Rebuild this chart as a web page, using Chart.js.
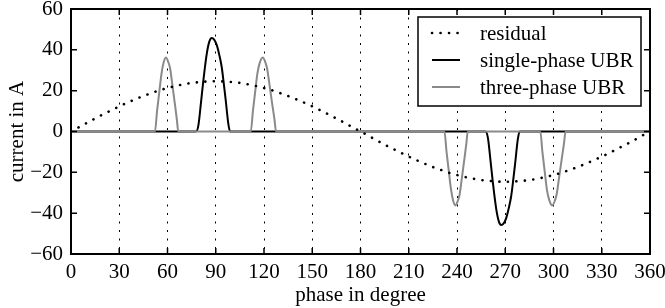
<!DOCTYPE html>
<html>
<head>
<meta charset="utf-8">
<script src="https://cdn.jsdelivr.net/npm/chart.js@4.4.0/dist/chart.umd.min.js"></script>
<style>
html, body { margin: 0; padding: 0; background: #fff; }
</style>
</head>
<body>
<canvas id="chart" width="665" height="308"></canvas>
<script>
// phase axis ticks (degree) and current axis ticks (A)
const phaseTicks = [0, 30, 60, 90, 120, 150, 180, 210, 240, 270, 300, 330, 360];
const currentTicks = [-60, -40, -20, 0, 20, 40, 60];

// residual current, read every 5 degree
const residualPhase = [0, 5, 10, 15, 20, 25, 30, 35, 40, 45, 50, 55, 60, 65, 70, 75, 80, 85, 90,
    95, 100, 105, 110, 115, 120, 125, 130, 135, 140, 145, 150, 155, 160, 165, 170, 175, 180,
    185, 190, 195, 200, 205, 210, 215, 220, 225, 230, 235, 240, 245, 250, 255, 260, 265, 270,
    275, 280, 285, 290, 295, 300, 305, 310, 315, 320, 325, 330, 335, 340, 345, 350, 355, 360];
const residualCurrent = [0, 2.1, 4.3, 6.4, 8.4, 10.4, 12.3, 14.1, 15.8, 17.4, 18.8, 20.2, 21.3, 22.3, 23.1, 23.8, 24.2, 24.5, 24.6,
    24.5, 24.2, 23.8, 23.1, 22.3, 21.3, 20.2, 18.8, 17.4, 15.8, 14.1, 12.3, 10.4, 8.4, 6.4, 4.3, 2.1, 0,
    -2.1, -4.3, -6.4, -8.4, -10.4, -12.3, -14.1, -15.8, -17.4, -18.8, -20.2, -21.3, -22.3, -23.1, -23.8, -24.2, -24.5, -24.6,
    -24.5, -24.2, -23.8, -23.1, -22.3, -21.3, -20.2, -18.8, -17.4, -15.8, -14.1, -12.3, -10.4, -8.4, -6.4, -4.3, -2.1, 0];

// single-phase UBR
const singlePhase = [0, 77.7, 79.2, 80.8, 82.3, 84.4, 86, 87.5, 89, 90.6, 92.2, 93.7, 95, 96.2, 97.8, 98.9,
    257.7, 259.2, 260.8, 262.3, 264.4, 266, 267.5, 269, 270.6, 272.2, 273.7, 275, 276.2, 277.8, 278.9, 360];
const singleCurrent = [0, 0, 3, 14, 25, 38, 44, 45.8, 45, 42.4, 37.5, 31.6, 23.5, 15.3, 3.9, 0,
    0, -3, -14, -25, -38, -44, -45.8, -45, -42.4, -37.5, -31.6, -23.5, -15.3, -3.9, 0, 0];

// three-phase UBR
const threePhase = [0,
    52.2, 53.5, 55, 56.3, 57.5, 59, 60.5, 61.6, 63, 64.5, 65.8, 66.7,
    111.8, 113.1, 114.6, 115.9, 117.3, 119.2, 120.8, 121.9, 123.4, 125, 126.5, 127.5,
    232.2, 233.5, 235, 236.3, 237.5, 239, 240.5, 241.6, 243, 244.5, 245.8, 246.7,
    291.8, 293.1, 294.6, 295.9, 297.3, 299.2, 300.8, 301.9, 303.4, 305, 306.5, 307.5,
    360];
const threeCurrent = [0,
    0, 10, 20, 28.5, 33.5, 36.2, 34, 31, 23, 14, 6, 0,
    0, 10, 20, 28.5, 33.5, 36.2, 34, 31, 23, 14, 6, 0,
    0, -10, -20, -28.5, -33.5, -36.2, -34, -31, -23, -14, -6, 0,
    0, -10, -20, -28.5, -33.5, -36.2, -34, -31, -23, -14, -6, 0,
    0];

const seriesNames = ['residual', 'single-phase UBR', 'three-phase UBR'];

function toPoints(xs, ys) {
    return xs.map(function(x, i) { return {x: x, y: ys[i]}; });
}

function minusSign(v) {
    return String(v).replace('-', '\u2212');
}

const FONT = "'Liberation Serif', 'DejaVu Serif', serif";
const FONT_SIZE = 21;
Chart.defaults.font.family = FONT;
Chart.defaults.font.size = FONT_SIZE;
Chart.defaults.color = '#000';

const DOT_DASH = [0.1, 8.4];

// frame with inward ticks, and the legend box
const framePlugin = {
    id: 'frame',
    afterDatasetsDraw(chart) {
        const c = chart.ctx;
        const a = chart.chartArea;
        const xs = chart.scales.x, ys = chart.scales.y;
        c.save();
        c.strokeStyle = '#000';
        c.lineWidth = 1.5;
        c.beginPath();
        phaseTicks.forEach(function(t) {
            const px = xs.getPixelForValue(t);
            c.moveTo(px, a.bottom); c.lineTo(px, a.bottom - 6);
            c.moveTo(px, a.top); c.lineTo(px, a.top + 6);
        });
        currentTicks.forEach(function(t) {
            const py = ys.getPixelForValue(t);
            c.moveTo(a.left, py); c.lineTo(a.left + 6, py);
            c.moveTo(a.right, py); c.lineTo(a.right - 6, py);
        });
        c.stroke();
        c.lineWidth = 2;
        c.strokeRect(a.left, a.top, a.right - a.left, a.bottom - a.top);

        // legend
        const L = 418, T = 17, R = 641, B = 106;
        c.fillStyle = '#fff';
        c.fillRect(L, T, R - L, B - T);
        c.lineWidth = 1.5;
        c.strokeRect(L, T, R - L, B - T);
        const rows = [33, 60, 87];
        chart.data.datasets.forEach(function(ds, i) {
            const y = rows[i];
            c.beginPath();
            c.strokeStyle = ds.borderColor;
            c.lineWidth = ds.borderWidth;
            c.lineCap = ds.borderCapStyle || 'butt';
            c.setLineDash(ds.borderDash || []);
            c.moveTo(432, y); c.lineTo(460, y);
            c.stroke();
            c.setLineDash([]);
            c.lineCap = 'butt';
            c.fillStyle = '#000';
            c.font = FONT_SIZE + 'px ' + FONT;
            c.textBaseline = 'middle';
            c.textAlign = 'left';
            c.fillText(ds.label, 480, y + 1);
        });
        c.restore();
    }
};

new Chart(document.getElementById('chart'), {
    type: 'line',
    data: {
        datasets: [
            {
                label: seriesNames[0],
                data: toPoints(residualPhase, residualCurrent),
                borderColor: '#000',
                borderWidth: 2.6,
                borderDash: DOT_DASH,
                borderCapStyle: 'round',
                pointRadius: 0,
                cubicInterpolationMode: 'monotone',
                order: 0
            },
            {
                label: seriesNames[1],
                data: toPoints(singlePhase, singleCurrent),
                borderColor: '#000',
                borderWidth: 2,
                pointRadius: 0,
                cubicInterpolationMode: 'monotone',
                order: 2
            },
            {
                label: seriesNames[2],
                data: toPoints(threePhase, threeCurrent),
                borderColor: '#8a8a8a',
                borderWidth: 2,
                pointRadius: 0,
                cubicInterpolationMode: 'monotone',
                order: 1
            }
        ]
    },
    options: {
        responsive: false,
        animation: false,
        devicePixelRatio: 1,
        layout: { padding: { top: 9, right: 15, left: 0, bottom: 0 } },
        plugins: { legend: { display: false }, tooltip: { enabled: false } },
        scales: {
            x: {
                type: 'linear',
                min: 0,
                max: 360,
                afterBuildTicks(scale) { scale.ticks = phaseTicks.map(function(v) { return {value: v}; }); },
                ticks: { padding: 6, maxRotation: 0, autoSkip: false, callback: minusSign },
                grid: { color: '#000', lineWidth: 1, drawTicks: false },
                border: { display: false, dash: [2, 6.5] },
                title: { display: true, text: 'phase in degree', padding: { top: 0, bottom: 0 } },
                afterFit(scale) { scale.height = 54; scale.paddingLeft = 0; scale.paddingRight = 0; }
            },
            y: {
                min: -60,
                max: 60,
                afterBuildTicks(scale) { scale.ticks = currentTicks.map(function(v) { return {value: v}; }); },
                ticks: { padding: 8, callback: minusSign },
                grid: { display: false, drawTicks: false },
                border: { display: false },
                title: { display: true, text: 'current in A', padding: { top: 5, bottom: 0 } },
                afterFit(scale) { scale.width = 71; scale.paddingTop = 0; scale.paddingBottom = 0; }
            }
        }
    },
    plugins: [framePlugin]
});
</script>
</body>
</html>
